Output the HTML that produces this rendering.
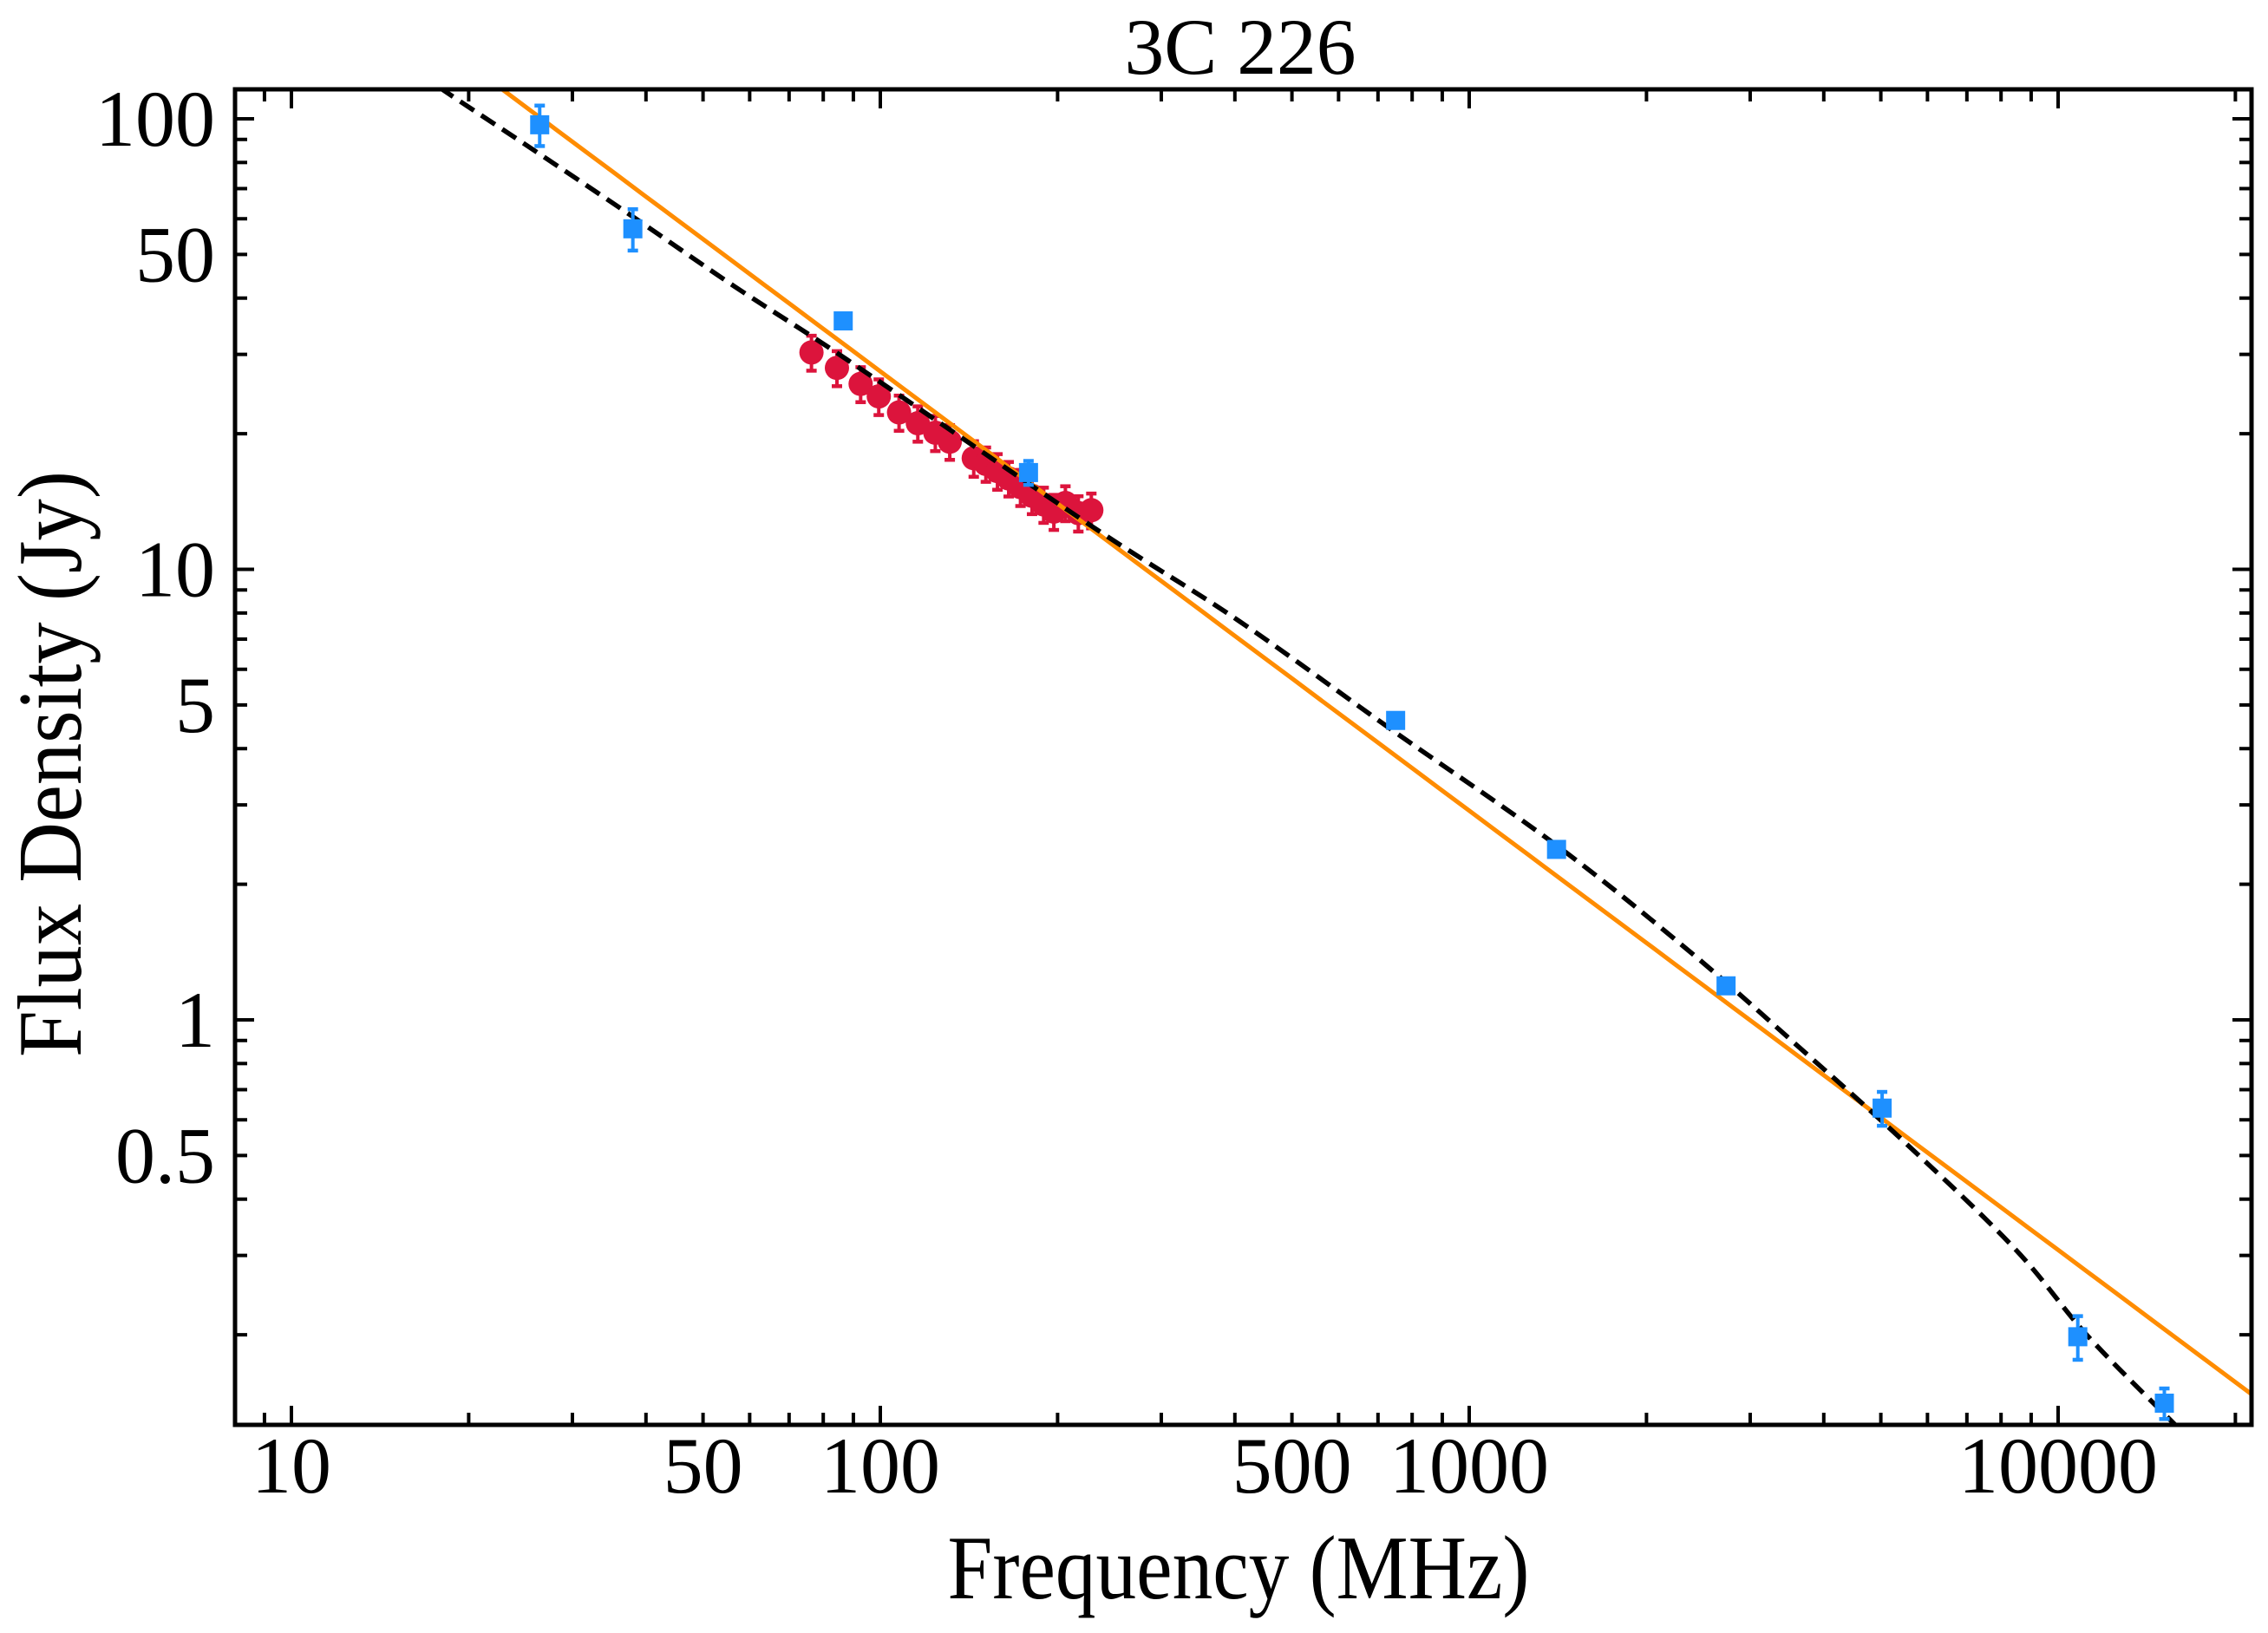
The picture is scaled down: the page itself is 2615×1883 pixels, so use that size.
<!DOCTYPE html>
<html><head><meta charset="utf-8"><title>3C 226 spectrum</title>
<style>
html,body{margin:0;padding:0;background:#fff;}
svg{display:block;}
text{font-family:"Liberation Serif",serif;fill:#000;}
</style></head>
<body>
<svg id="chart" xmlns="http://www.w3.org/2000/svg" width="2615" height="1883" viewBox="0 0 2615 1883">
<rect x="0" y="0" width="2615" height="1883" fill="#fff"/>
<defs><clipPath id="plotclip"><rect x="271" y="103" width="2325" height="1540"/></clipPath></defs>
<text x="1430" y="85" font-size="92" text-anchor="middle" textLength="267" lengthAdjust="spacingAndGlyphs">3C 226</text>
<text x="1428" y="1843" font-size="105" text-anchor="middle" textLength="671" lengthAdjust="spacingAndGlyphs">Frequency (MHz)</text>
<text x="0" y="0" font-size="105" text-anchor="middle" textLength="676" lengthAdjust="spacingAndGlyphs" transform="translate(93,881) rotate(-90)">Flux Density (Jy)</text>
<g id="ticks"></g>
<g id="labels"></g>
<g id="marks" clip-path="url(#plotclip)"></g>
<rect x="271" y="103" width="2325" height="1540" fill="none" stroke="#000" stroke-width="5"/>
</svg>
<script>
// ---- data ----
const blueFreq = [26.4, 38, 86.5, 178.5, 750, 1407, 2730, 5025, 10800, 15150];
const blueFlux = [97, 57, 35.6, 16.4, 4.62, 2.39, 1.19, 0.637, 0.198, 0.141];
const blueErr  = [10, 6, 0.8, 1.0, 0.1, 0.05, 0.03, 0.055, 0.022, 0.011];
const redFreq = [76.4, 84.4, 92.6, 99.4, 107.6, 115.8, 124.0, 131.2, 144.1, 151.1, 158.1, 165.2, 173.0, 181.0, 189.4, 197.1, 206.2, 216.9, 228.2];
const redFlux = [30.3, 28.0, 25.8, 24.2, 22.3, 21.1, 20.1, 19.2, 17.65, 17.14, 16.52, 15.91, 15.22, 14.56, 13.93, 13.43, 14.04, 13.33, 13.53];
const redErr  = [2.7, 2.5, 2.3, 2.2, 2.0, 1.9, 1.8, 1.7, 1.6, 1.5, 1.5, 1.4, 1.4, 1.3, 1.25, 1.2, 1.25, 1.2, 1.2];
const curveFreq = [16.5, 18.2, 25.6, 37.4, 56.5, 87.8, 229, 406, 745, 1407, 2353, 3634, 5542, 8453, 11200, 15490, 16800];
const curveFlux = [127, 115.3, 85.8, 61.5, 42.5, 29.2, 12.45, 7.69, 4.37, 2.44, 1.428, 0.869, 0.529, 0.310, 0.1995, 0.1296, 0.117];
const powerNorm = [27.5];   // Jy at 100 MHz
const powerIndex = [-0.975];
const xMajor = [10, 100, 1000, 10000];
const xLabels = ["10", "50", "100", "500", "1000", "10000"];
const xLabelVals = [10, 50, 100, 500, 1000, 10000];
const yLabels = ["100", "50", "10", "5", "1", "0.5"];
const yLabelVals = [100, 50, 10, 5, 1, 0.5];
const yMajor = [1, 10, 100];

// ---- axes ----
const X0 = 336, XDEC = 679, Y0 = 137, YDEC = 519.5;
const L = 271, R = 2596, T = 103, B = 1643;
const xs = f => X0 + XDEC * (Math.log10(f) - 1);
const ys = s => Y0 + YDEC * (2 - Math.log10(s));
const NS = "http://www.w3.org/2000/svg";
function mk(tag, attrs, parent) {
  const e = document.createElementNS(NS, tag);
  for (const k in attrs) e.setAttribute(k, attrs[k]);
  parent.appendChild(e);
  return e;
}
const gT = document.getElementById('ticks');
const gL = document.getElementById('labels');
const gM = document.getElementById('marks');

// x ticks
for (let d = 1; d <= 10000; d *= 10) {
  for (let m = 1; m <= 9; m++) {
    const f = m * d;
    const x = xs(f);
    if (x < L + 3 || x > R - 3) continue;
    const major = xMajor.includes(f);
    const len = major ? 22 : 14;
    const t1 = mk('line', {x1: x, x2: x, y1: B, y2: B - len, stroke: '#000', 'stroke-width': 4}, gT);
    
    
    const t2 = mk('line', {x1: x, x2: x, y1: T, y2: T + len, stroke: '#000', 'stroke-width': 4}, gT);
    
    
  }
}
// y ticks
for (let d = 0.1; d <= 100.5; d *= 10) {
  for (let m = 1; m <= 9; m++) {
    const s = m * d;
    const y = ys(s);
    if (y < T + 3 || y > B - 3) continue;
    const major = yMajor.some(v => Math.abs(v - s) < 1e-6);
    const len = major ? 22 : 14;
    const t1 = mk('line', {x1: L, x2: L + len, y1: y, y2: y, stroke: '#000', 'stroke-width': 4}, gT);
    
    
    const t2 = mk('line', {x1: R, x2: R - len, y1: y, y2: y, stroke: '#000', 'stroke-width': 4}, gT);
    
    
  }
}
// labels
xLabelVals.forEach((v, i) => {
  const t = mk('text', {x: xs(v), y: 1721, 'font-size': 92, 'text-anchor': 'middle'}, gL);
  t.textContent = xLabels[i];
  
  
});
yLabelVals.forEach((v, i) => {
  const t = mk('text', {x: 248, y: ys(v) + 31, 'font-size': 92, 'text-anchor': 'end'}, gL);
  t.textContent = yLabels[i];
  
  
});

// error bar helper
function errbar(f, s, e, color, name) {
  const x = xs(f);
  const yt = ys(s + e), yb = ys(Math.max(s - e, 1e-3));
  const g = mk('g', {}, gM);
  
  
  mk('line', {x1: x, x2: x, y1: yt, y2: yb, stroke: color, 'stroke-width': 4}, g);
  mk('line', {x1: x - 6, x2: x + 6, y1: yt, y2: yt, stroke: color, 'stroke-width': 4.5}, g);
  mk('line', {x1: x - 6, x2: x + 6, y1: yb, y2: yb, stroke: color, 'stroke-width': 4.5}, g);
}

// red points
redFreq.forEach((f, i) => {
  errbar(f, redFlux[i], redErr[i], '#dc143c', 'red-errorbar');
  const c = mk('circle', {cx: xs(f), cy: ys(redFlux[i]), r: 14, fill: '#dc143c'}, gM);
  
  
});

// power-law line
(function () {
  const pts = [];
  for (let lf = 0.85; lf <= 4.40; lf += 0.05) {
    const f = Math.pow(10, lf);
    pts.push(xs(f).toFixed(1) + ',' + ys(powerNorm[0] * Math.pow(f / 100, powerIndex[0])).toFixed(1));
  }
  const p = mk('polyline', {points: pts.join(' '), fill: 'none', stroke: '#ff8c00', 'stroke-width': 5}, gM);
  
  
})();

// curved model (dashed), smoothed through sample points (Catmull-Rom)
(function () {
  const P = curveFreq.map((f, i) => [xs(f), ys(curveFlux[i])]);
  let d = 'M' + P[0][0].toFixed(1) + ',' + P[0][1].toFixed(1);
  for (let i = 0; i < P.length - 1; i++) {
    const p0 = P[Math.max(i - 1, 0)], p1 = P[i], p2 = P[i + 1], p3 = P[Math.min(i + 2, P.length - 1)];
    const c1 = [p1[0] + (p2[0] - p0[0]) / 6, p1[1] + (p2[1] - p0[1]) / 6];
    const c2 = [p2[0] - (p3[0] - p1[0]) / 6, p2[1] - (p3[1] - p1[1]) / 6];
    d += ' C' + c1[0].toFixed(1) + ',' + c1[1].toFixed(1) + ' ' + c2[0].toFixed(1) + ',' + c2[1].toFixed(1) + ' ' + p2[0].toFixed(1) + ',' + p2[1].toFixed(1);
  }
  const p = mk('path', {d: d, fill: 'none', stroke: '#000', 'stroke-width': 5.5, 'stroke-dasharray': '19 10'}, gM);
  
  
})();

// blue points
blueFreq.forEach((f, i) => {
  errbar(f, blueFlux[i], blueErr[i], '#1e90ff', 'blue-errorbar');
  const r = mk('rect', {x: xs(f) - 11, y: ys(blueFlux[i]) - 11, width: 22, height: 22, fill: '#1e90ff'}, gM);
  
  
});
</script>
</body></html>
